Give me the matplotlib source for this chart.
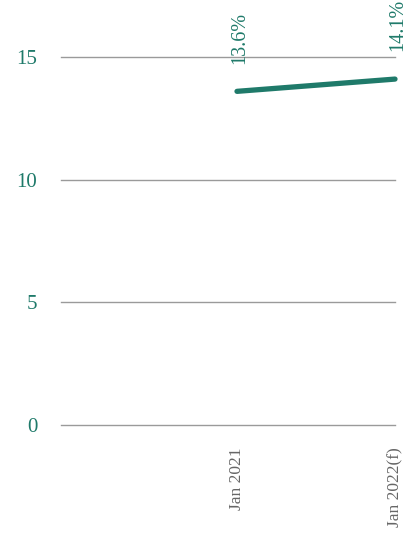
import matplotlib
matplotlib.use("Agg")
import matplotlib.pyplot as plt

categories = ["Jan 2021", "Jan 2022(f)"]
values = [13.6, 14.1]
value_labels = ["13.6%", "14.1%"]
yticks = [0, 5, 10, 15]

teal = "#1f7a6a"
fig = plt.figure(figsize=(4.11, 5.33), dpi=100)
ax = fig.add_axes([61/411, 1-425/533, 334/411, 368/533])
x = list(range(len(categories)))
ax.plot(x, values, color=teal, lw=3.8, solid_capstyle="round", clip_on=False, zorder=3)
for xi, v, lab in zip(x, values, value_labels):
    ax.annotate(lab, (xi, v), xytext=(2, 20), textcoords="offset points",
                rotation=90, ha="center", va="bottom", color=teal,
                fontsize=14.5, family="Liberation Serif", annotation_clip=False)
ax.set_ylim(0, 15)
ax.set_xlim(-176/158, 1)
ax.set_yticks(yticks)
ax.set_yticklabels([str(t) for t in yticks], family="Liberation Serif", fontsize=15, color=teal)
ax.set_xticks(x)
ax.set_xticklabels(categories, rotation=90, family="Liberation Serif", fontsize=12.5, color="#666666", va="top")
ax.tick_params(axis="y", length=0, pad=17)
ax.tick_params(axis="x", length=0, pad=16)
for t in yticks:
    ax.axhline(t, color="#9a9a9a", lw=1.0, zorder=1, clip_on=False)
for s in ax.spines.values():
    s.set_visible(False)
fig.savefig("out.png", dpi=100)
